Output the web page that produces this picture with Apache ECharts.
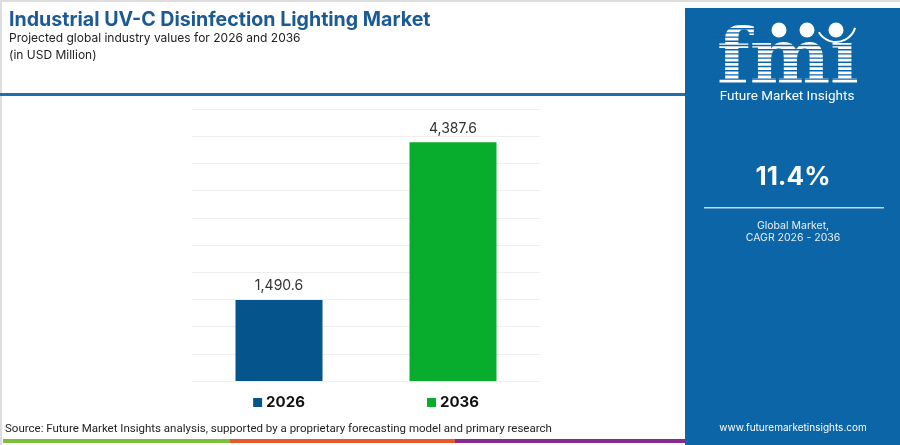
<!DOCTYPE html>
<html><head><meta charset="utf-8">
<script src="https://cdn.jsdelivr.net/npm/echarts@6/dist/echarts.min.js"></script>
<style>html,body{margin:0;padding:0;background:#fff}#c{width:900px;height:445px}</style>
</head><body><div id="c"></div>
<script>
const categories = ['2026', '2036'];
const values = [1490.6, 4387.6];
const barColors = ['#05558c', '#08ad2e'];
const titleText = 'Industrial UV-C Disinfection Lighting Market';
const subtitleText = 'Projected global industry values for 2026 and 2036';
const unitText = '(in USD Million)';
const cagrText = '11.4%';
const sourceText = 'Source: Future Market Insights analysis, supported by a proprietary forecasting model and primary research';

const panel = '#0b65a6';
const chart = echarts.init(document.getElementById('c'));

const stripes = [];
for (let y = 28; y < 84; y += 4.2) {
  stripes.push({type:'rect', shape:{x:712, y:y, width:150, height:1.4}, style:{fill:panel}, z:12});
}

chart.setOption({
  animation:false,
  grid:{left:192, right:360, top:109, bottom:64},
  xAxis:{type:'category', data:categories,
    axisLine:{show:false}, axisTick:{show:false},
    axisLabel:{margin:14, formatter:(v,i)=>'{s'+i+'|}{t|'+v+'}',
      rich:{
        s0:{backgroundColor:barColors[0], width:9, height:9, padding:0},
        s1:{backgroundColor:barColors[1], width:9, height:9, padding:0},
        t:{fontFamily:'Inter', fontWeight:'bold', fontSize:15, color:'#111', padding:[0,0,0,4]}
      }}},
  yAxis:{type:'value', min:0, max:5000, interval:500,
    axisLabel:{show:false}, axisLine:{show:false}, axisTick:{show:false},
    splitLine:{lineStyle:{color:'#eeeeee', width:1}}},
  series:[{type:'bar', data:values.map((v,i)=>({value:v, itemStyle:{color:barColors[i]}})),
    barWidth:'50%',
    label:{show:true, position:'top', distance:7, fontFamily:'Inter', fontSize:14, color:'#333',
      formatter:p=>p.value.toLocaleString('en-US',{minimumFractionDigits:1, maximumFractionDigits:1})}}],
  graphic:[
    {type:'rect', shape:{x:0, y:0, width:900, height:2}, style:{fill:'#dddddd'}},
    {type:'rect', shape:{x:0, y:0, width:2, height:445}, style:{fill:'#dddddd'}},
    {type:'text', x:9, y:10, style:{text:titleText, fontFamily:'Inter', fontWeight:'bold', fontSize:19.6, fill:'#1b5a94'}},
    {type:'text', x:9, y:32, style:{text:subtitleText, fontFamily:'Inter', fontSize:12, fill:'#222'}},
    {type:'text', x:9, y:49, style:{text:unitText, fontFamily:'Inter', fontSize:12, fill:'#222'}},
    {type:'rect', shape:{x:0, y:93, width:686, height:3}, style:{fill:'#1f6eae'}},
    {type:'rect', shape:{x:685, y:8, width:215, height:437}, style:{fill:panel}, z:10},
    {type:'text', x:788, y:63, style:{text:'fm\u0131', fontFamily:'DejaVu Serif', fontWeight:'bold', fontSize:76, fill:'#ffffff', align:'center', verticalAlign:'middle'}, z:11},
    ...stripes,
    {type:'circle', shape:{cx:779, cy:30, r:7.5}, style:{fill:'#ffffff'}, z:13},
    {type:'circle', shape:{cx:807, cy:30, r:7.5}, style:{fill:'#ffffff'}, z:13},
    {type:'circle', shape:{cx:836, cy:30, r:7.5}, style:{fill:'#ffffff'}, z:13},
    {type:'arc', shape:{cx:836, cy:22, r:20, startAngle:0.3, endAngle:2.6, clockwise:true}, style:{stroke:'#ffffff', lineWidth:2, fill:null}, z:13},
    {type:'text', x:787, y:97, style:{text:'Future Market Insights', fontFamily:'Roboto', fontSize:13.5, fill:'#ffffff', align:'center', verticalAlign:'middle'}, z:13},
    {type:'text', x:793, y:177, style:{text:cagrText, fontFamily:'Inter', fontWeight:'bold', fontSize:26, fill:'#ffffff', align:'center', verticalAlign:'middle'}, z:13},
    {type:'rect', shape:{x:704, y:207, width:180, height:1.5}, style:{fill:'rgba(255,255,255,0.75)'}, z:13},
    {type:'text', x:793, y:226, style:{text:'Global Market,', fontFamily:'Inter', fontSize:10.5, fill:'#e8f0f8', align:'center', verticalAlign:'middle'}, z:13},
    {type:'text', x:793, y:238, style:{text:'CAGR 2026 - 2036', fontFamily:'Inter', fontSize:10.5, fill:'#e8f0f8', align:'center', verticalAlign:'middle'}, z:13},
    {type:'text', x:793, y:428, style:{text:'www.futuremarketinsights.com', fontFamily:'Inter', fontSize:10, fill:'#ffffff', align:'center', verticalAlign:'middle'}, z:13},
    {type:'text', x:5, y:429, style:{text:sourceText, fontFamily:'Roboto', fontSize:11.5, fill:'#222', verticalAlign:'middle'}},
    {type:'rect', shape:{x:3, y:439, width:227, height:4}, style:{fill:'#7cbf3a'}},
    {type:'rect', shape:{x:230, y:439, width:225, height:4}, style:{fill:'#e8582a'}},
    {type:'rect', shape:{x:455, y:439, width:230, height:4}, style:{fill:'#8a2a8e'}}
  ]
});
</script></body></html>
